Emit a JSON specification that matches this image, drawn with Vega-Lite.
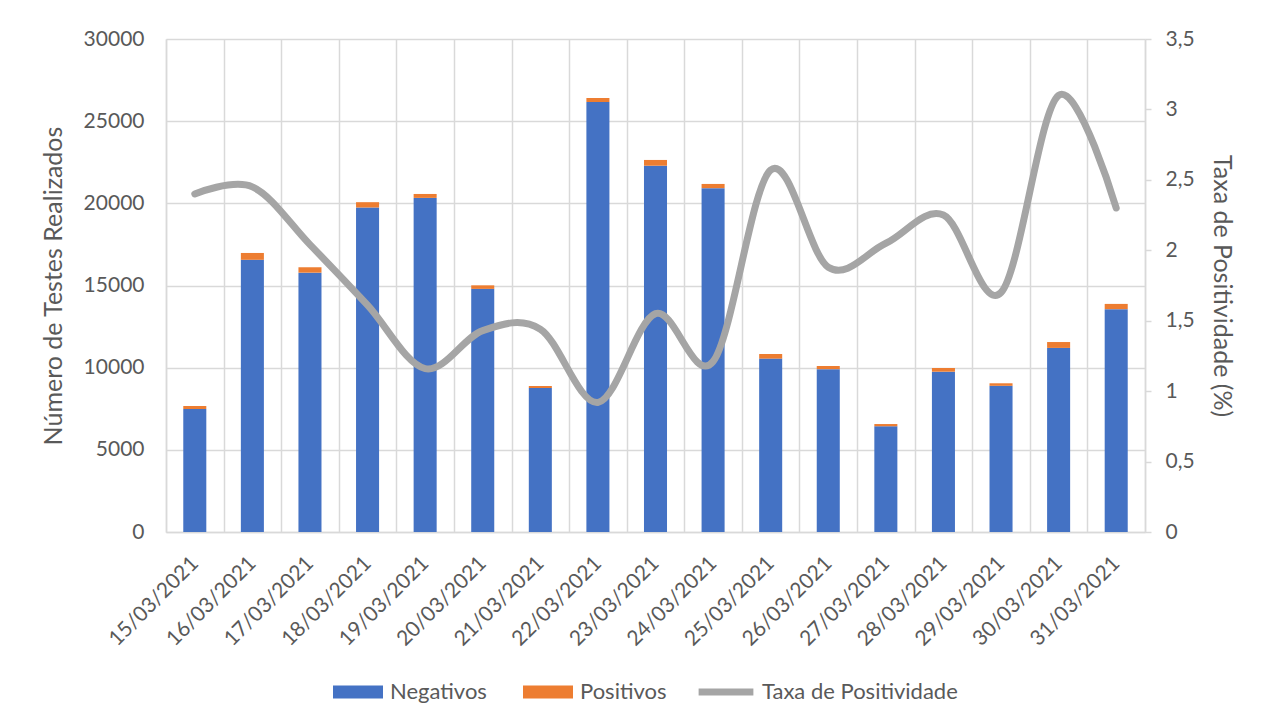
{
  "$schema": "https://vega.github.io/schema/vega-lite/v6.json",
  "autosize": {"type": "none"},
  "width": 979,
  "height": 493,
  "padding": {"left": 166, "top": 39, "right": 133, "bottom": 190},
  "background": "white",
  "config": {
    "font": "Lato",
    "view": {"stroke": null},
    "axis": {"labelColor": "#595959", "titleColor": "#595959", "labelFontSize": 21, "titleFontSize": 25, "titleFontWeight": "normal", "labelFont": "Lato", "titleFont": "Lato"},
    "legend": {"labelColor": "#595959", "labelFontSize": 22, "labelFont": "Lato", "padding": 0, "labelLimit": 0}
  },
  "datasets": {
    "testes": [
      {"data": "15/03/2021", "tipo": "Negativos", "valor": 7484},
      {"data": "15/03/2021", "tipo": "Positivos", "valor": 184},
      {"data": "16/03/2021", "tipo": "Negativos", "valor": 16564},
      {"data": "16/03/2021", "tipo": "Positivos", "valor": 416},
      {"data": "17/03/2021", "tipo": "Negativos", "valor": 15781},
      {"data": "17/03/2021", "tipo": "Positivos", "valor": 329},
      {"data": "18/03/2021", "tipo": "Negativos", "valor": 19747},
      {"data": "18/03/2021", "tipo": "Positivos", "valor": 323},
      {"data": "19/03/2021", "tipo": "Negativos", "valor": 20331},
      {"data": "19/03/2021", "tipo": "Positivos", "valor": 239},
      {"data": "20/03/2021", "tipo": "Negativos", "valor": 14795},
      {"data": "20/03/2021", "tipo": "Positivos", "valor": 215},
      {"data": "21/03/2021", "tipo": "Negativos", "valor": 8762},
      {"data": "21/03/2021", "tipo": "Positivos", "valor": 128},
      {"data": "22/03/2021", "tipo": "Negativos", "valor": 26167},
      {"data": "22/03/2021", "tipo": "Positivos", "valor": 243},
      {"data": "23/03/2021", "tipo": "Negativos", "valor": 22289},
      {"data": "23/03/2021", "tipo": "Positivos", "valor": 351},
      {"data": "24/03/2021", "tipo": "Negativos", "valor": 20924},
      {"data": "24/03/2021", "tipo": "Positivos", "valor": 256},
      {"data": "25/03/2021", "tipo": "Negativos", "valor": 10552},
      {"data": "25/03/2021", "tipo": "Positivos", "valor": 278},
      {"data": "26/03/2021", "tipo": "Negativos", "valor": 9910},
      {"data": "26/03/2021", "tipo": "Positivos", "valor": 190},
      {"data": "27/03/2021", "tipo": "Negativos", "valor": 6435},
      {"data": "27/03/2021", "tipo": "Positivos", "valor": 135},
      {"data": "28/03/2021", "tipo": "Negativos", "valor": 9755},
      {"data": "28/03/2021", "tipo": "Positivos", "valor": 225},
      {"data": "29/03/2021", "tipo": "Negativos", "valor": 8896},
      {"data": "29/03/2021", "tipo": "Positivos", "valor": 154},
      {"data": "30/03/2021", "tipo": "Negativos", "valor": 11202},
      {"data": "30/03/2021", "tipo": "Positivos", "valor": 358},
      {"data": "31/03/2021", "tipo": "Negativos", "valor": 13561},
      {"data": "31/03/2021", "tipo": "Positivos", "valor": 319}
    ],
    "taxa": [
      {"data": "15/03/2021", "taxa": 2.40},
      {"data": "16/03/2021", "taxa": 2.45},
      {"data": "17/03/2021", "taxa": 2.04},
      {"data": "18/03/2021", "taxa": 1.61},
      {"data": "19/03/2021", "taxa": 1.16},
      {"data": "20/03/2021", "taxa": 1.43},
      {"data": "21/03/2021", "taxa": 1.44},
      {"data": "22/03/2021", "taxa": 0.92},
      {"data": "23/03/2021", "taxa": 1.55},
      {"data": "24/03/2021", "taxa": 1.21},
      {"data": "25/03/2021", "taxa": 2.57},
      {"data": "26/03/2021", "taxa": 1.88},
      {"data": "27/03/2021", "taxa": 2.05},
      {"data": "28/03/2021", "taxa": 2.25},
      {"data": "29/03/2021", "taxa": 1.70},
      {"data": "30/03/2021", "taxa": 3.10},
      {"data": "31/03/2021", "taxa": 2.30}
    ]
  },
  "encoding": {
    "x": {
      "field": "data", "type": "ordinal",
      "scale": {"paddingInner": 0, "paddingOuter": 0},
      "axis": {
        "title": null, "labelAngle": -45, "labelAlign": "right", "labelBaseline": "middle",
        "labelPadding": 28, "ticks": false, "grid": true, "tickBand": "extent",
        "gridColor": "#D9D9D9", "gridWidth": 1.5, "domainColor": "#D9D9D9", "domainWidth": 1.5
      }
    }
  },
  "layer": [
    {
      "data": {"name": "testes"},
      "mark": {"type": "bar", "width": {"band": 0.4}},
      "encoding": {
        "y": {
          "field": "valor", "type": "quantitative", "aggregate": "sum", "stack": "zero",
          "scale": {"domain": [0, 30000]},
          "axis": {
            "title": "Número de Testes Realizados", "values": [0, 5000, 10000, 15000, 20000, 25000, 30000],
            "format": "d", "grid": true, "gridColor": "#D9D9D9", "gridWidth": 1.5, "ticks": false,
            "domainColor": "#D9D9D9", "domainWidth": 1.5, "labelPadding": 22, "titlePadding": 17
          }
        },
        "color": {
          "field": "tipo", "type": "nominal",
          "scale": {"domain": ["Negativos", "Positivos"], "range": ["#4472C4", "#ED7D31"]},
          "legend": {
            "title": null, "orient": "none", "direction": "horizontal", "legendX": 167, "legendY": 628,
            "symbolType": "M-1,-0.26H1V0.26H-1Z", "symbolSize": 2500, "symbolStrokeWidth": 0,
            "labelOffset": 7, "columnPadding": 36, "symbolOpacity": 1
          }
        },
        "order": {"field": "tipo", "sort": "ascending"}
      }
    },
    {
      "data": {"name": "taxa"},
      "mark": {"type": "line", "interpolate": "cardinal", "strokeWidth": 7, "strokeCap": "round"},
      "encoding": {
        "y": {
          "field": "taxa", "type": "quantitative",
          "scale": {"domain": [0, 3.5]},
          "axis": {
            "orient": "right", "title": "Taxa de Positividade (%)", "values": [0, 0.5, 1, 1.5, 2, 2.5, 3, 3.5],
            "labelExpr": "replace(format(datum.value, '.1~f'), '.', ',')",
            "grid": false, "ticks": true, "tickSize": 6, "tickColor": "#D9D9D9", "tickWidth": 1.5,
            "domainColor": "#D9D9D9", "domainWidth": 1.5, "labelPadding": 14, "titlePadding": 14
          }
        },
        "stroke": {
          "datum": "Taxa de Positividade",
          "scale": {"domain": ["Taxa de Positividade"], "range": ["#A5A5A5"]},
          "legend": {
            "title": null, "orient": "none", "legendX": 529, "legendY": 622,
            "symbolType": "M-1,0H1", "symbolSize": 3000, "symbolStrokeWidth": 7, "labelOffset": 5
          }
        }
      }
    }
  ],
  "resolve": {"scale": {"y": "independent"}}
}
